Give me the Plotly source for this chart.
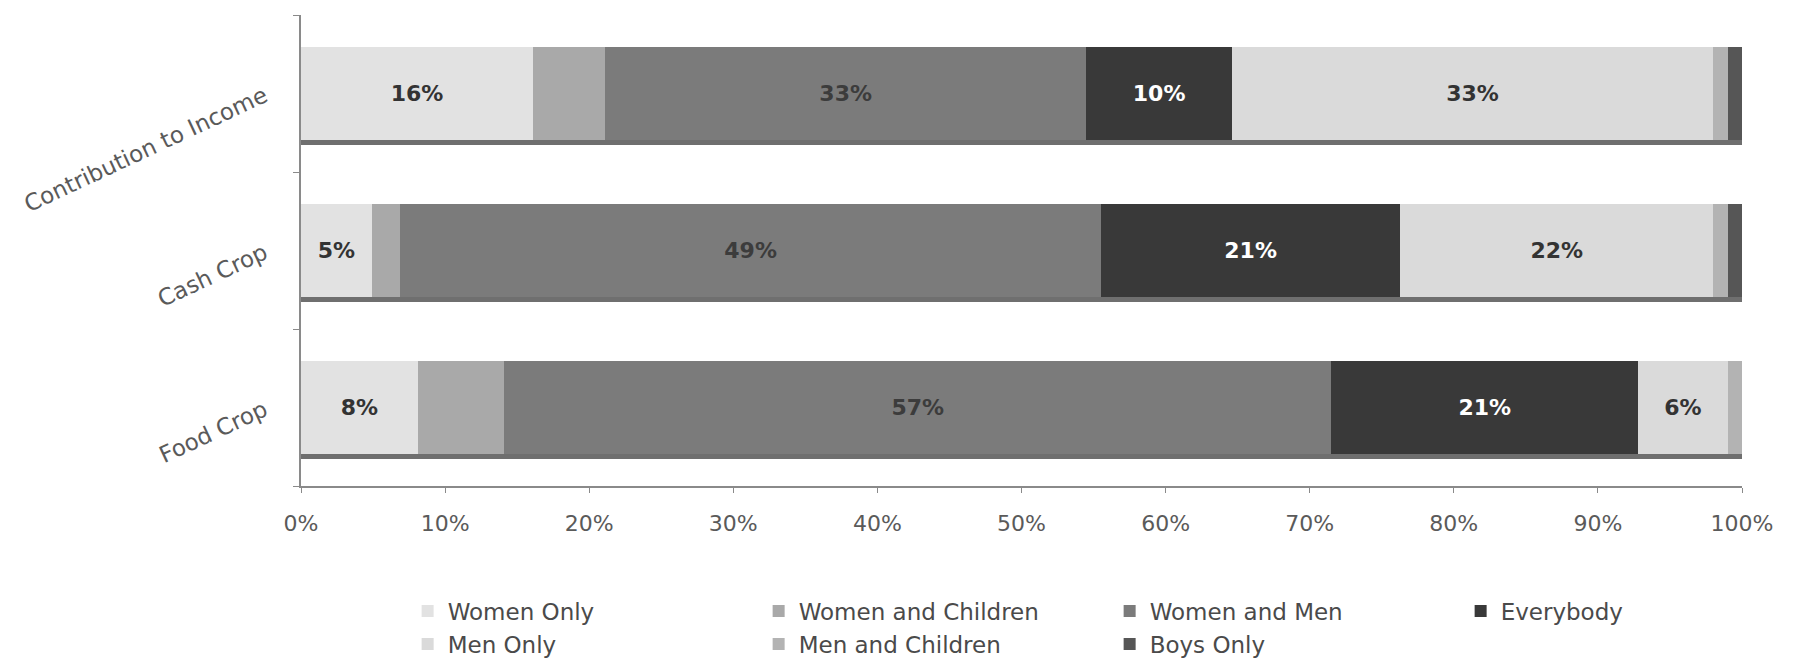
import plotly.graph_objects as go

categories = ["Food Crop", "Cash Crop", "Contribution to Income"]
series_names = ["Women Only", "Women and Children", "Women and Men", "Everybody",
                "Men Only", "Men and Children", "Boys Only"]
women_only = [8.1, 4.9, 16.1]
women_children = [6.0, 2.0, 5.0]
women_men = [57.4, 48.6, 33.4]
everybody = [21.3, 20.8, 10.1]
men_only = [6.2, 21.7, 33.4]
men_children = [1.0, 1.0, 1.0]
boys_only = [0.0, 1.0, 1.0]
x_tick_vals = [0, 10, 20, 30, 40, 50, 60, 70, 80, 90, 100]
x_tick_text = ["0%", "10%", "20%", "30%", "40%", "50%", "60%", "70%", "80%", "90%", "100%"]

series_values = [women_only, women_children, women_men, everybody, men_only, men_children, boys_only]
colors = ["#e2e2e2", "#a9a9a9", "#7b7b7b", "#393939", "#dadada", "#b3b3b3", "#565656"]
labeled = [True, False, True, True, True, False, False]
label_colors = ["#333333", "#333333", "#3c3c3c", "#ffffff", "#333333", "#333333", "#333333"]

BAR_W = 0.59
fig = go.Figure()
for name, vals, col, lab, lc in zip(series_names, series_values, colors, labeled, label_colors):
    fig.add_trace(go.Bar(
        y=categories, x=vals, name=name, orientation="h",
        marker=dict(color=col, line=dict(width=0)),
        width=BAR_W,
        texttemplate="<b>%{x:.0f}%</b>" if lab else None,
        textposition="inside" if lab else "none",
        insidetextanchor="middle", textangle=0,
        insidetextfont=dict(color=lc, size=22, family="DejaVu Sans"),
        hoverinfo="skip",
    ))

totals = [sum(s[i] for s in series_values) for i in range(len(categories))]
SH_W = 0.036
fig.add_trace(go.Bar(
    y=categories, x=totals, orientation="h", yaxis="y2",
    marker=dict(color="#6f6f6f", line=dict(width=0)),
    width=SH_W, offset=-BAR_W / 2 - SH_W, showlegend=False, hoverinfo="skip",
))

fig.update_layout(
    width=1794, height=667,
    barmode="stack",
    paper_bgcolor="#ffffff", plot_bgcolor="#ffffff",
    margin=dict(l=301, r=52, t=15, b=181, autoexpand=False),
    font=dict(family="DejaVu Sans", color="#5a5a5a", size=20),
    xaxis=dict(range=[0, 100], tickvals=x_tick_vals, ticktext=x_tick_text,
               showgrid=False, zeroline=False, showline=True, linecolor="#8a8a8a", linewidth=2,
               ticks="outside", ticklen=5, tickcolor="#8a8a8a", ticklabelstandoff=12,
               tickfont=dict(size=22, color="#5a5a5a")),
    yaxis=dict(categoryorder="array", categoryarray=categories,
               showgrid=False, showline=True, linecolor="#8a8a8a", linewidth=2,
               ticks="outside", ticklen=6, tickcolor="#8a8a8a", tickson="boundaries",
               ticklabelstandoff=30,
               tickangle=-25, tickfont=dict(size=23, color="#5a5a5a")),
    yaxis2=dict(overlaying="y", matches="y", visible=False,
                categoryorder="array", categoryarray=categories),
    legend=dict(orientation="h", x=0.074, xanchor="left", yref="container", y=0.116, yanchor="top",
                entrywidth=306, entrywidthmode="pixels", traceorder="normal",
                font=dict(size=23, color="#4a4a4a"), itemwidth=30,
                bgcolor="rgba(0,0,0,0)"),
)

fig.write_html("out.html")
